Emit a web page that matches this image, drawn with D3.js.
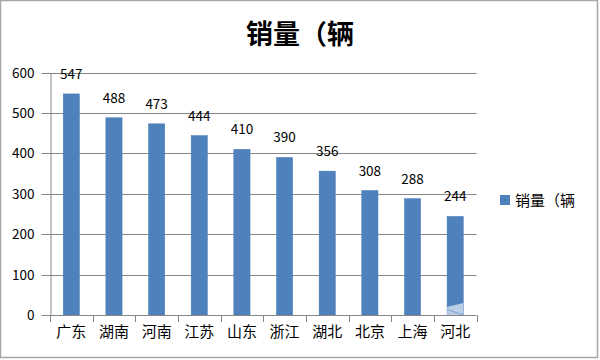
<!DOCTYPE html>
<html><head><meta charset="utf-8">
<script src="https://cdn.jsdelivr.net/npm/d3@7"></script>
<style>
html,body{margin:0;padding:0;background:#fff;}
text{font-family:"Noto Sans CJK SC","DejaVu Sans",sans-serif;}
</style></head>
<body><svg id="c" width="600" height="360"></svg>
<script>
const categories = ["广东","湖南","河南","江苏","山东","浙江","湖北","北京","上海","河北"];
const values = [547,488,473,444,410,390,356,308,288,244];
const yTicks = [0,100,200,300,400,500,600];
const seriesName = "销量（辆";

const svg = d3.select("#c");
const W = 600, H = 360;
const m = {left:50, right:124, top:72.5, bottom:45};
const x = d3.scaleBand().domain(categories).range([50, 476.5]).paddingInner(0.62).paddingOuter(0.31);
const y = d3.scaleLinear().domain([0,600]).range([315, 72.5]);

svg.append("rect").attr("x",0.5).attr("y",0.5).attr("width",597).attr("height",357)
  .attr("fill","#fff").attr("stroke","#a6a6a6").attr("stroke-width",1.5);

// title
svg.append("text").attr("x",300).attr("y",44).attr("text-anchor","middle")
  .attr("font-size",27).attr("font-weight","bold").attr("fill","#000").text(seriesName);

// gridlines
svg.append("g").selectAll("line").data(yTicks.filter(d=>d>0)).join("line")
  .attr("x1",50).attr("x2",476.5).attr("y1",d=>Math.round(y(d))+0.5).attr("y2",d=>Math.round(y(d))+0.5)
  .attr("stroke","#878787").attr("stroke-width",1);

// y axis
const ya = svg.append("g").attr("transform","translate(50.5,0)")
  .call(d3.axisLeft(y).tickValues(yTicks).tickSize(9).tickPadding(7).tickSizeOuter(0));
ya.select(".domain").attr("stroke","#878787");
ya.selectAll(".tick line").attr("stroke","#878787");
ya.selectAll(".tick").attr("transform",d=>`translate(0,${Math.round(y(d))+0.5})`);
ya.selectAll("text").attr("font-size",13.5).attr("fill","#000").attr("font-family","'DejaVu Sans',sans-serif").attr("dy","0.35em");

// bars
svg.append("g").selectAll("rect").data(values).join("rect")
  .attr("x",(d,i)=>x(categories[i])).attr("width",x.bandwidth())
  .attr("y",d=>y(d)).attr("height",d=>y(0)-y(d))
  .attr("fill","#4f81bd").attr("stroke","#4a7ab5").attr("stroke-width",0.5);

// light curl artifact on last bar
const lx = x(categories[9]), lw = x.bandwidth();
svg.append("polygon").attr("points",`${lx},${307} ${lx+lw},${303} ${lx+lw},${315} ${lx},${315}`).attr("fill","#b9cde5");
svg.append("line").attr("x1",lx).attr("y1",309.5).attr("x2",lx+lw).attr("y2",315).attr("stroke","#7ea1cf").attr("stroke-width",1);

// x axis
const xa = svg.append("g").attr("transform","translate(0,315.5)")
  .call(d3.axisBottom(x).tickSize(0).tickPadding(10));
xa.select(".domain").attr("stroke","#878787").attr("d","M50,0H476.5");
xa.selectAll("text").attr("font-size",15).attr("fill","#000").attr("dy","0.75em");
// category boundary ticks
const bounds = d3.range(categories.length+1).map(i=>50 + i*(476.5-50)/categories.length);
svg.append("g").selectAll("line").data(bounds).join("line")
  .attr("x1",d=>Math.round(d)+0.5).attr("x2",d=>Math.round(d)+0.5).attr("y1",315).attr("y2",322)
  .attr("stroke","#878787");

// data labels
svg.append("g").selectAll("text").data(values).join("text")
  .attr("x",(d,i)=>x(categories[i])+x.bandwidth()/2).attr("y",d=>y(d)-15)
  .attr("text-anchor","middle").attr("font-size",13.5).attr("fill","#000")
  .attr("font-family","'DejaVu Sans',sans-serif").text(d=>d);

// legend
svg.append("rect").attr("x",500).attr("y",195).attr("width",10).attr("height",10).attr("fill","#4f81bd");
svg.append("text").attr("x",515).attr("y",205.5).attr("font-size",15).attr("fill","#000").text(seriesName);
</script></body></html>
